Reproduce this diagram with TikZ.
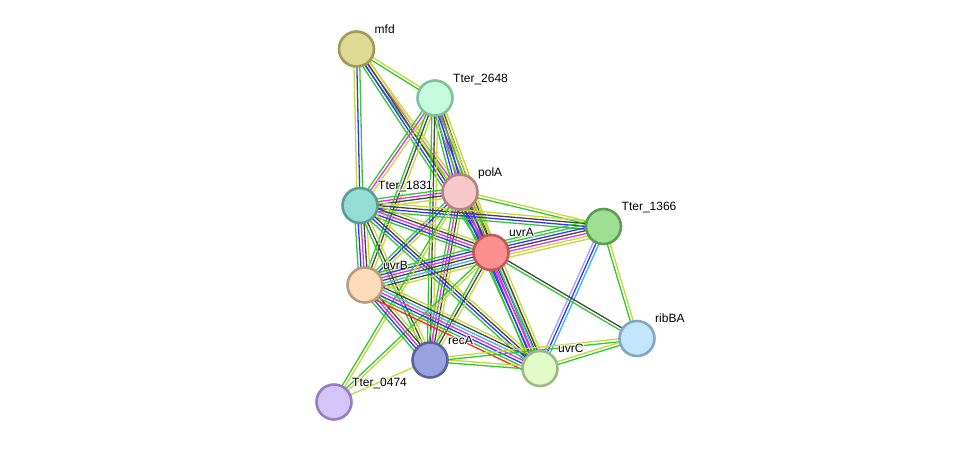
\documentclass[tikz,border=0pt]{standalone}
\usepackage{fontspec}
\setmainfont{Liberation Sans}
\usetikzlibrary{calc,backgrounds}
\definecolor{cg}{HTML}{33C833}
\definecolor{cy}{HTML}{C4D83A}
\definecolor{cb}{HTML}{3535FF}
\definecolor{ck}{HTML}{454545}
\definecolor{cm}{HTML}{DD35DD}
\definecolor{cc}{HTML}{35BBE8}
\definecolor{cp}{HTML}{A2A2FF}
\definecolor{cr}{HTML}{FF2525}
\definecolor{fmfd}{HTML}{DEDB96}\definecolor{dmfd}{HTML}{A09A55}
\definecolor{ftb}{HTML}{C4FBDC}\definecolor{dtb}{HTML}{80C09C}
\definecolor{fpolA}{HTML}{F7C8C8}\definecolor{dpolA}{HTML}{B48484}
\definecolor{fta}{HTML}{94DDD4}\definecolor{dta}{HTML}{5A9C96}
\definecolor{ftc}{HTML}{9FDF94}\definecolor{dtc}{HTML}{5C9C54}
\definecolor{fuvrA}{HTML}{FC9090}\definecolor{duvrA}{HTML}{C05858}
\definecolor{fuvrB}{HTML}{FDDCBC}\definecolor{duvrB}{HTML}{B89C80}
\definecolor{fribBA}{HTML}{C4E6FC}\definecolor{dribBA}{HTML}{80A8C0}
\definecolor{fuvrC}{HTML}{E2FCC8}\definecolor{duvrC}{HTML}{A0B888}
\definecolor{frecA}{HTML}{98A2DC}\definecolor{drecA}{HTML}{5A649C}
\definecolor{ftd}{HTML}{D4C4F8}\definecolor{dtd}{HTML}{9480C0}
\tikzset{
  prot/.style={circle,minimum size=35pt,inner sep=0pt,line width=2.6pt},
  plabel/.style={anchor=base west,font=\fontsize{12}{14}\selectfont,inner sep=0pt,text=black},
  edgeline/.style={line width=1.3pt}
}
\newcommand\strbundle[3]{%
  \foreach \cc [count=\ii] in {#3}{\global\let\strbundlen\ii}%
  \foreach \cc [count=\ii] in {#3}{%
    \pgfmathsetlengthmacro\oo{(\ii-(\strbundlen+1)/2)*2.9pt}%
    \draw[edgeline,draw=\cc] ($(#1.center)!\oo!90:(#2.center)$) -- ($(#2.center)!\oo!-90:(#1.center)$);
  }}
\newcommand\prot[4]{%
  \node[prot,fill=f#1,draw=d#1] (#1) at (#2,#3) {};
  \foreach \hx/\hy in {0.9/0,-0.9/0,0/0.9,0/-0.9,0.65/0.65,-0.65/0.65,0.65/-0.65,-0.65/-0.65}{%
    \node[plabel,text=white] at ($(#1.center)+(18+\hx,-16+\hy)$) {#4};}
  \node[plabel] (#1l) at ($(#1.center)+(18,-16)$) {#4};}
\begin{document}
\begin{tikzpicture}[x=1pt,y=-1pt]
\useasboundingbox (0,0) rectangle (975,448);
\prot{mfd}{356.5}{49}{mfd}
\prot{tb}{435}{98}{Tter\_2648}
\prot{polA}{460}{192}{polA}
\prot{ta}{360}{205.5}{Tter\_1831}
\prot{tc}{603.5}{226.5}{Tter\_1366}
\prot{uvrA}{491}{252.5}{uvrA}
\prot{uvrB}{365}{285}{uvrB}
\prot{ribBA}{637}{338.5}{ribBA}
\prot{uvrC}{540}{368.5}{uvrC}
\prot{recA}{430}{360}{recA}
\prot{td}{334}{402}{Tter\_0474}
\begin{scope}[on background layer]
\strbundle{mfd}{tb}{cg,cy}
\strbundle{mfd}{ta}{cy,cb,cg}
\strbundle{mfd}{polA}{cg,cm,cy}
\strbundle{mfd}{uvrA}{cg,cb,ck,cy}
\strbundle{tb}{polA}{cg,cb,cm,ck,cy}
\strbundle{tb}{ta}{cg,cm,cy}
\strbundle{tb}{uvrA}{cg,cb,cm,ck,cy}
\strbundle{tb}{uvrB}{cg,ck,cy}
\strbundle{tb}{recA}{cg,ck,cy}
\strbundle{tb}{uvrC}{cg,cy}
\strbundle{polA}{ta}{cg,cm,ck,cy}
\strbundle{polA}{tc}{cg,cy}
\strbundle{polA}{uvrA}{cg,cb,cm,cc,ck,cy}
\strbundle{polA}{uvrB}{cg,cb,cy}
\strbundle{polA}{recA}{cg,cm,ck,cy}
\strbundle{polA}{uvrC}{cg,cb,cm,ck,cy}
\strbundle{ta}{tc}{cg,cb,ck,cy}
\strbundle{ta}{uvrA}{cg,cb,cm,ck,cy}
\strbundle{ta}{uvrB}{cg,cb,cm,ck,cy}
\strbundle{ta}{recA}{cg,ck,cy}
\strbundle{ta}{uvrC}{cg,cb,ck,cy}
\strbundle{tc}{uvrA}{cg,cg,cb,ck,cm,cy,cy}
\strbundle{tc}{uvrC}{cp,cb,cc}
\strbundle{tc}{ribBA}{cg,cy}
\strbundle{uvrA}{uvrB}{cg,cb,cm,ck,cc,ck,cy}
\strbundle{uvrA}{uvrC}{cg,cb,cm,cc,ck,cy}
\strbundle{uvrA}{recA}{cg,ck,cy}
\strbundle{uvrA}{ribBA}{cg,ck}
\strbundle{uvrA}{td}{cg,cy}
\strbundle{polA}{td}{cg,cy}
\strbundle{uvrB}{recA}{cg,cb,cm,ck,cy}
\strbundle{uvrB}{uvrC}{cr,cg,cb,cm,cc,ck,cy}
\strbundle{recA}{uvrC}{cg,cy}
\strbundle{recA}{ribBA}{cg,cy}
\strbundle{recA}{td}{cy}
\strbundle{uvrC}{ribBA}{cg,cy}
\end{scope}
\end{tikzpicture}
\end{document}
